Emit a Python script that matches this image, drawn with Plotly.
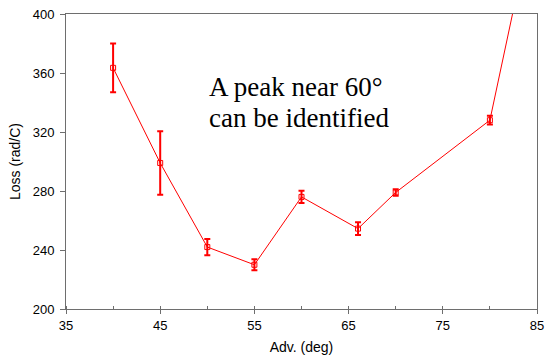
import plotly.graph_objects as go

# Loss measured against advance angle, with error bars
adv_deg = [40, 45, 50, 55, 60, 66, 70, 80, 85]
loss = [363.5, 299, 242, 230, 276, 254.5, 279, 328, 478]
loss_err = [16.5, 21.5, 5.5, 3.7, 4.2, 4.3, 2.2, 3, 3]

x_ticks = [35, 45, 55, 65, 75, 85]
y_ticks = [200, 240, 280, 320, 360, 400]

note_lines = ["A peak near 60°", "can be identified"]
note_y = [350.8, 329.2]

red = "#ff0000"
axis_grey = "#6e6e6e"

fig = go.Figure()
fig.add_trace(go.Scatter(
    x=adv_deg, y=loss,
    mode="lines+markers",
    line=dict(color=red, width=1),
    marker=dict(symbol="square-open", size=5, color=red, line=dict(width=1, color=red)),
    error_y=dict(type="data", array=loss_err, visible=True,
                 color=red, thickness=2, width=3),
    showlegend=False,
))

# Two-line note, each line placed on its own so the line spacing stays tight
for text, y in zip(note_lines, note_y):
    fig.add_annotation(
        x=50, y=y, xref="x", yref="y",
        text=text,
        showarrow=False, xanchor="left", yanchor="middle", align="left",
        font=dict(family="Liberation Serif", size=27, color="black"),
    )

tick_font = dict(family="Liberation Sans", size=13, color="black")
title_font = dict(family="Liberation Sans", size=14, color="black")

fig.update_xaxes(
    range=[35, 85], tickvals=x_ticks, ticktext=[str(v) for v in x_ticks],
    showgrid=False, zeroline=False, automargin=False,
    showline=True, linecolor=axis_grey, linewidth=1, mirror=True,
    ticks="outside", ticklen=4, tickcolor=axis_grey, tickwidth=1,
    minor=dict(dtick=5, tick0=35, ticks="inside", ticklen=3, tickcolor=axis_grey, tickwidth=1),
    tickfont=tick_font,
    title=dict(text="Adv. (deg)", font=title_font, standoff=11),
)
fig.update_yaxes(
    range=[200, 400], tickvals=y_ticks, ticktext=[str(v) for v in y_ticks],
    showgrid=False, zeroline=False, automargin=False,
    showline=True, linecolor=axis_grey, linewidth=1, mirror=True,
    ticks="outside", ticklen=5, tickcolor=axis_grey, tickwidth=1,
    tickfont=tick_font, ticklabelstandoff=3,
    title=dict(text="Loss (rad/C)", font=title_font, standoff=8),
)

fig.update_layout(
    width=547, height=355,
    margin=dict(l=66, r=10, t=14, b=46),
    paper_bgcolor="white", plot_bgcolor="white",
)

fig.write_html("out.html")
